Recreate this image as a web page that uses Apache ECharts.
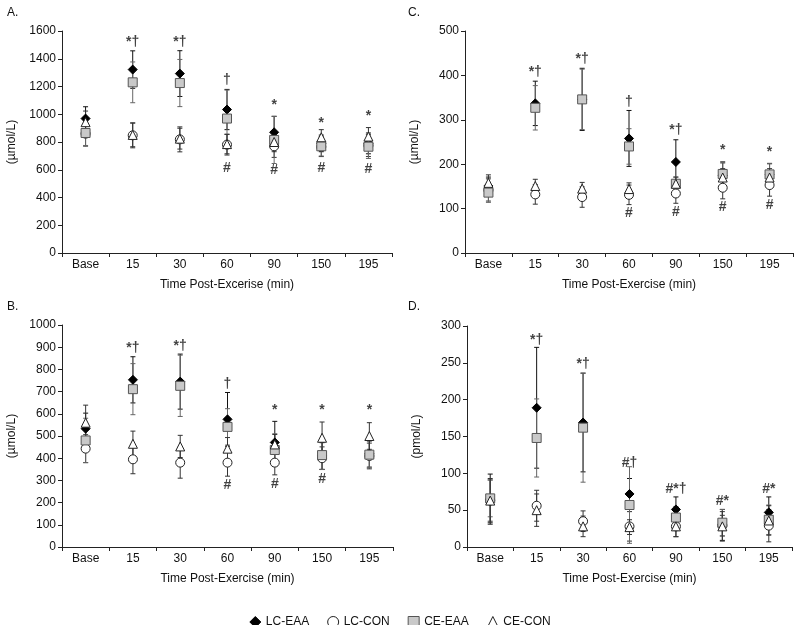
<!DOCTYPE html>
<html><head><meta charset="utf-8">
<script src="https://cdn.jsdelivr.net/npm/echarts@6/dist/echarts.min.js"></script>
<style>html,body{margin:0;padding:0;background:#fff}#c{width:800px;height:625px}</style>
</head><body><div id="c"></div>
<script>
var categories = ['Base','15','30','60','90','150','195'];
var seriesNames = ['LC-EAA','LC-CON','CE-EAA','CE-CON'];

// Panel A (µmol/L)
var A_LC_EAA = [969,1322,1293,1034,870,790,790];
var A_LC_EAA_sd = [85,135,165,145,115,60,75];
var A_LC_CON = [860,848,819,781,769,765,775];
var A_LC_CON_sd = [90,90,90,75,80,70,80];
var A_CE_EAA = [865,1230,1225,969,815,769,766];
var A_CE_EAA_sd = [90,147,170,205,170,70,85];
var A_CE_CON = [943,851,824,785,800,834,839];
var A_CE_CON_sd = [80,85,75,70,70,55,65];
var A_marks = [['15',1520,'*†'],['30',1520,'*†'],['60',1245,'†'],['90',1068,'*'],['150',935,'*'],['195',984,'*'],['60',612,'#'],['90',597,'#'],['150',612,'#'],['195',602,'#']];

// Panel B (µmol/L)
var B_LC_EAA = [533,753,745,575,471,410,420];
var B_LC_EAA_sd = [70,104,124,121,95,60,60];
var B_LC_CON = [443,395,380,380,380,400,410];
var B_LC_CON_sd = [63,65,70,61,55,51,58];
var B_CE_EAA = [480,711,726,541,437,414,416];
var B_CE_EAA_sd = [100,115,138,82,73,65,60];
var B_CE_CON = [560,465,453,443,462,492,500];
var B_CE_CON_sd = [79,57,50,50,45,71,60];
var B_marks = [['15',895,'*†'],['30',904,'*†'],['60',733,'†'],['90',617,'*'],['150',617,'*'],['195',617,'*'],['60',277,'#'],['90',282,'#'],['150',304,'#']];

// Panel C (µmol/L)
var C_LC_EAA = [151,337,346,258,205,175,176];
var C_LC_EAA_sd = [20,50,70,63,50,28,25];
var C_LC_CON = [142,132,126,131,134,147,153];
var C_LC_CON_sd = [25,22,23,22,22,25,25];
var C_CE_EAA = [136,327,346,240,156,178,177];
var C_CE_EAA_sd = [22,50,68,40,15,28,25];
var C_CE_CON = [158,151,145,144,156,170,170];
var C_CE_CON_sd = [18,15,14,14,15,20,20];
var C_marks = [['15',408,'*†'],['30',436,'*†'],['60',340,'†'],['90',276,'*†'],['150',232,'*'],['195',227,'*'],['60',90,'#'],['90',91,'#'],['150',104,'#'],['195',108,'#']];

// Panel D (pmol/L)
var D_LC_EAA = [65,189,169,72,51,30,47];
var D_LC_EAA_sd = [34,82,67,21,17,21,21];
var D_LC_CON = [63,56,35,28,28,29,29];
var D_LC_CON_sd = [28,21,14,20,14,14,22];
var D_CE_EAA = [66,148,162,57,40,33,37];
var D_CE_EAA_sd = [25,53,74,52,15,18,20];
var D_CE_CON = [63,50,28,27,28,28,36];
var D_CE_CON_sd = [30,22,14,10,14,20,20];
var D_marks = [['15',281,'*†'],['30',248,'*†'],['60',114,'#†'],['90',79,'#*†'],['150',62,'#*'],['195',79,'#*']];

var FONT = 'Liberation Sans, Arial, sans-serif';
var styles = {
  'LC-EAA': {symbol:'diamond', size:9, fill:'#000', border:'#000', err:'#111'},
  'LC-CON': {symbol:'circle', size:9, fill:'#fff', border:'#222', err:'#333'},
  'CE-EAA': {symbol:'rect', size:9, fill:'#c9c9c9', border:'#555', err:'#666'},
  'CE-CON': {symbol:'triangle', size:9, fill:'#fff', border:'#222', err:'#333'}
};
// draw order (bottom to top)
var drawOrder = ['LC-EAA','LC-CON','CE-EAA','CE-CON'];

var panels = [
  {letter:'A.', grid:{left:62, top:31, width:330, height:222}, ymax:1600, step:200, yname:'(µmol/L)', xname:'Time Post-Excerise (min)', titlePos:[2,2],
   data:{'LC-EAA':[A_LC_EAA,A_LC_EAA_sd],'LC-CON':[A_LC_CON,A_LC_CON_sd],'CE-EAA':[A_CE_EAA,A_CE_EAA_sd],'CE-CON':[A_CE_CON,A_CE_CON_sd]}, marks:A_marks},
  {letter:'C.', grid:{left:465, top:31, width:328, height:222}, ymax:500, step:100, yname:'(µmol/L)', xname:'Time Post-Exercise (min)', titlePos:[403,2],
   data:{'LC-EAA':[C_LC_EAA,C_LC_EAA_sd],'LC-CON':[C_LC_CON,C_LC_CON_sd],'CE-EAA':[C_CE_EAA,C_CE_EAA_sd],'CE-CON':[C_CE_CON,C_CE_CON_sd]}, marks:C_marks},
  {letter:'B.', grid:{left:62, top:325, width:331, height:222}, ymax:1000, step:100, yname:'(µmol/L)', xname:'Time Post-Exercise (min)', titlePos:[2,296],
   data:{'LC-EAA':[B_LC_EAA,B_LC_EAA_sd],'LC-CON':[B_LC_CON,B_LC_CON_sd],'CE-EAA':[B_CE_EAA,B_CE_EAA_sd],'CE-CON':[B_CE_CON,B_CE_CON_sd]}, marks:B_marks},
  {letter:'D.', grid:{left:467, top:326, width:325, height:221}, ymax:300, step:50, yname:'(pmol/L)', xname:'Time Post-Exercise (min)', titlePos:[403,296],
   data:{'LC-EAA':[D_LC_EAA,D_LC_EAA_sd],'LC-CON':[D_LC_CON,D_LC_CON_sd],'CE-EAA':[D_CE_EAA,D_CE_EAA_sd],'CE-CON':[D_CE_CON,D_CE_CON_sd]}, marks:D_marks}
];

function errRender(params, api){
  var i = api.value(0);
  var lo = api.coord([i, api.value(1)]);
  var hi = api.coord([i, api.value(2)]);
  var w = 2.5;
  var st = api.style({stroke: api.visual('color'), fill:null, lineWidth:1});
  return {type:'group', children:[
    {type:'line', shape:{x1:hi[0],y1:hi[1],x2:lo[0],y2:lo[1]}, style:st},
    {type:'line', shape:{x1:hi[0]-w,y1:hi[1],x2:hi[0]+w,y2:hi[1]}, style:st},
    {type:'line', shape:{x1:lo[0]-w,y1:lo[1],x2:lo[0]+w,y2:lo[1]}, style:st}
  ]};
}

var option = {
  animation:false,
  backgroundColor:'#fff',
  textStyle:{fontFamily:FONT},
  title:[], grid:[], xAxis:[], yAxis:[], series:[],
  legend:{
    left:'center', top:611, itemWidth:11, itemHeight:11, itemGap:18,
    textStyle:{fontFamily:FONT, fontSize:12, color:'#111'},
    data: seriesNames.map(function(n){
      var s = styles[n];
      return {name:n, icon:s.symbol, itemStyle:{color:s.fill, borderColor:s.border, borderWidth:1}};
    })
  }
};

panels.forEach(function(p, k){
  option.title.push({text:p.letter, left:p.titlePos[0], top:p.titlePos[1], textStyle:{fontFamily:FONT, fontSize:12, fontWeight:'normal', color:'#111'}});
  option.grid.push(p.grid);
  option.xAxis.push({
    type:'category', gridIndex:k, data:categories, boundaryGap:true,
    name:p.xname, nameLocation:'middle', nameGap:26,
    nameTextStyle:{fontFamily:FONT, fontSize:12, color:'#111'},
    axisLine:{lineStyle:{color:'#222', width:1}},
    axisTick:{show:true, inside:false, length:4, lineStyle:{color:'#222'}},
    axisLabel:{fontFamily:FONT, fontSize:12, color:'#111', margin:6},
    splitLine:{show:false}
  });
  option.yAxis.push({
    type:'value', gridIndex:k, min:0, max:p.ymax, interval:p.step,
    name:p.yname, nameLocation:'middle', nameGap:44, nameRotate:90,
    nameTextStyle:{fontFamily:FONT, fontSize:12, color:'#111'},
    axisLine:{show:true, lineStyle:{color:'#222', width:1}},
    axisTick:{show:true, length:4, lineStyle:{color:'#222'}},
    axisLabel:{fontFamily:FONT, fontSize:12, color:'#111', margin:6, formatter:function(v){ return String(v); }},
    splitLine:{show:false}
  });
  // error bars
  drawOrder.forEach(function(n){
    var vals = p.data[n][0], sd = p.data[n][1];
    option.series.push({
      type:'custom', name:n+' err', xAxisIndex:k, yAxisIndex:k,
      renderItem:errRender, itemStyle:{color:styles[n].err},
      data: vals.map(function(v,i){ return [i, Math.max(0, v - sd[i]), v + sd[i]]; }),
      z:2, silent:true
    });
  });
  // markers
  drawOrder.forEach(function(n, j){
    var s = styles[n];
    option.series.push({
      type:'scatter', name:n, xAxisIndex:k, yAxisIndex:k,
      symbol:s.symbol, symbolSize:s.size,
      itemStyle:{color:s.fill, borderColor:s.border, borderWidth:1, opacity:1},
      data: p.data[n][0].map(function(v,i){ return [i, v]; }),
      z:3+j
    });
  });
  // significance annotations
  option.series.push({
    type:'scatter', name:'marks', xAxisIndex:k, yAxisIndex:k,
    symbolSize:0, silent:true, z:10,
    data: p.marks.map(function(m){ return {value:[categories.indexOf(m[0]), m[1]], label:{formatter:m[2]}}; }),
    label:{show:true, position:'inside', fontFamily:FONT, fontSize:14, fontWeight:'bold', color:'#111'}
  });
});

var chart = echarts.init(document.getElementById('c'), null, {renderer:'canvas'});
chart.setOption(option);
</script>
</body></html>
